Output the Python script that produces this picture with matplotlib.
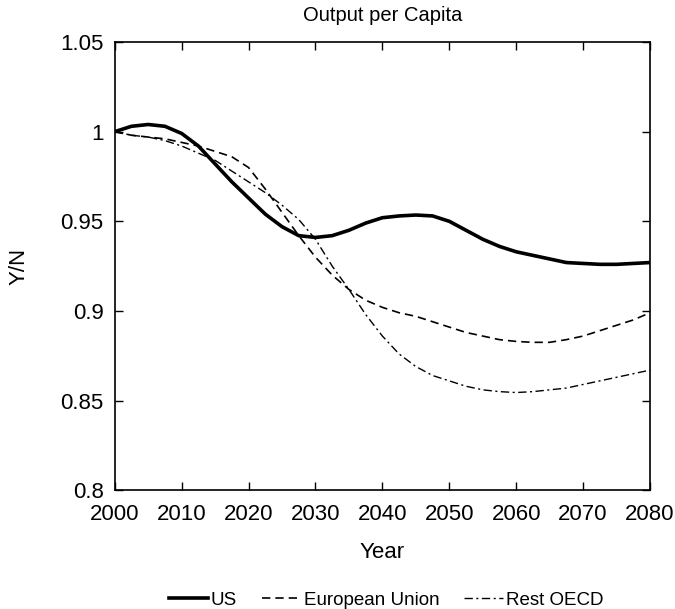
import numpy as np
from matplotlib import pyplot as plt

plt.rcParams['font.family'] = ['Liberation Sans', 'DejaVu Sans']

years = [2000, 2002.5, 2005, 2007.5, 2010, 2012.5, 2015, 2017.5, 2020, 2022.5,
         2025, 2027.5, 2030, 2032.5, 2035, 2037.5, 2040, 2042.5, 2045, 2047.5,
         2050, 2052.5, 2055, 2057.5, 2060, 2062.5, 2065, 2067.5, 2070, 2072.5,
         2075, 2077.5, 2080]

us = [1.000, 1.003, 1.004, 1.003, 0.999, 0.992, 0.982, 0.972, 0.963, 0.954,
      0.947, 0.942, 0.941, 0.942, 0.945, 0.949, 0.952, 0.953, 0.9535, 0.953,
      0.950, 0.945, 0.940, 0.936, 0.933, 0.931, 0.929, 0.927, 0.9265, 0.926,
      0.926, 0.9265, 0.927]

eu = [1.000, 0.998, 0.997, 0.996, 0.994, 0.992, 0.989, 0.986, 0.980, 0.968,
      0.955, 0.942, 0.930, 0.920, 0.912, 0.906, 0.902, 0.899, 0.897, 0.894,
      0.891, 0.888, 0.886, 0.884, 0.883, 0.8825, 0.8825, 0.884, 0.886, 0.889,
      0.892, 0.895, 0.899]

rest_oecd = [1.000, 0.998, 0.997, 0.995, 0.992, 0.988, 0.984, 0.978, 0.972, 0.966,
             0.959, 0.951, 0.940, 0.925, 0.912, 0.898, 0.886, 0.876, 0.869, 0.864,
             0.861, 0.858, 0.856, 0.855, 0.8545, 0.855, 0.856, 0.857, 0.859, 0.861,
             0.863, 0.865, 0.867]

xticks = [2000, 2010, 2020, 2030, 2040, 2050, 2060, 2070, 2080]
yticks = [0.8, 0.85, 0.9, 0.95, 1.0, 1.05]
ytick_labels = ['0.8', '0.85', '0.9', '0.95', '1', '1.05']

fig = plt.figure(figsize=(6.75, 6.09), dpi=100)
ax = fig.add_axes([0.170, 0.195, 0.793, 0.736])

ax.plot(years, us, color='black', lw=2.6, label='US')
ax.plot(years, eu, color='black', lw=1.2, dashes=(5, 3), label='European Union')
ax.plot(years, rest_oecd, color='black', lw=1.0, dashes=(6, 2.5, 1.5, 2.5), label='Rest OECD')

ax.set_xlim(2000, 2080)
ax.set_ylim(0.8, 1.05)
ax.set_xticks(xticks)
ax.set_xticklabels([str(x) for x in xticks])
ax.set_yticks(yticks)
ax.set_yticklabels(ytick_labels)
ax.tick_params(direction='in', top=True, right=True, length=6, width=1,
               labelsize=16, pad=8)
ax.tick_params(axis='x', pad=10)
for s in ax.spines.values():
    s.set_linewidth(1.2)

ax.set_xlabel('Year', fontsize=16, labelpad=12)
ax.set_ylabel('Y/N', fontsize=16, labelpad=22)
ax.set_title('Output per Capita', fontsize=14.5, pad=15)

fig.legend(loc='lower center', ncol=3, frameon=False, fontsize=13.5,
           bbox_to_anchor=(0.572, -0.027), handlelength=2.1, columnspacing=1.3,
           handletextpad=0.15)

fig.savefig('out.png', dpi=100)
